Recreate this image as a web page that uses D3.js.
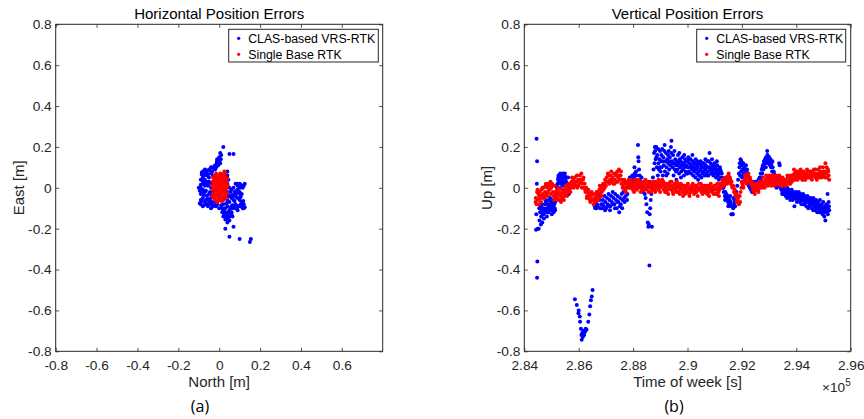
<!DOCTYPE html>
<html>
<head>
<meta charset="utf-8">
<script src="https://cdn.jsdelivr.net/npm/d3@7"></script>
<style>
  body { margin: 0; background: #fff; }
  svg text { font-family: "Liberation Sans", Arial, sans-serif; fill: #262626; }
</style>
</head>
<body>
<svg id="chart" width="864" height="419"></svg>
<script>
// ---- tick values ----
const horizTicksX = [-0.8, -0.6, -0.4, -0.2, 0, 0.2, 0.4, 0.6];
const horizTicksY = [-0.8, -0.6, -0.4, -0.2, 0, 0.2, 0.4, 0.6, 0.8];
const vertTicksX = [284000, 286000, 288000, 290000, 292000, 294000, 296000];
const vertTicksY = [-0.8, -0.6, -0.4, -0.2, 0, 0.2, 0.4, 0.6, 0.8];

const seriesNames = ["CLAS-based VRS-RTK", "Single Base RTK"];
const seriesColors = ["#0000ff", "#ff0000"];

// ---- (a) horizontal errors: [north, east] in m ----
const clasHoriz = [
  [-0.08,0.08],[-0.07,0.09],[-0.06,0.08],[-0.05,0.09],[-0.04,0.1],[-0.03,0.1],[-0.02,0.11],[-0.01,0.12],
  [0.0,0.13],[-0.01,0.14],[0.0,0.15],[0.01,0.16],[0.005,0.17],[-0.02,0.09],[-0.06,0.06],[-0.08,0.05],
  [-0.09,0.04],[-0.07,0.04],[-0.05,0.05],[-0.04,0.07],[-0.03,0.06],[-0.08,0.02],[-0.09,0.0],[-0.07,0.01],
  [-0.06,0.02],[-0.05,0.03],[-0.04,0.02],[-0.03,0.03],[-0.08,-0.01],[-0.09,-0.03],[-0.07,-0.02],[-0.06,-0.04],
  [-0.05,-0.03],[-0.04,-0.05],[-0.08,-0.05],[-0.09,-0.08],[-0.07,-0.07],[-0.06,-0.08],[-0.05,-0.07],[-0.04,-0.08],
  [-0.03,-0.09],[-0.02,-0.07],[-0.01,-0.08],[-0.04,-0.1],[0.0,-0.06],[-0.02,0.02],[-0.03,-0.02],[-0.02,-0.04],
  [-0.04,0.0],[-0.065,0.07],[-0.085,0.065],[-0.055,-0.055],[-0.075,-0.085],[-0.025,-0.085],
  [0.04,0.02],[0.05,0.0],[0.06,-0.01],[0.07,0.0],[0.08,0.02],[0.09,0.01],[0.1,0.02],[0.11,0.01],
  [0.12,0.01],[0.09,-0.01],[0.1,-0.02],[0.11,-0.03],[0.08,-0.03],[0.07,-0.04],[0.06,-0.05],[0.05,-0.04],
  [0.04,-0.06],[0.03,-0.05],[0.05,-0.07],[0.07,-0.06],[0.09,-0.05],[0.1,-0.06],[0.11,-0.07],[0.12,-0.08],
  [0.11,-0.09],[0.12,-0.1],[0.1,-0.09],[0.08,-0.08],[0.06,-0.09],[0.04,-0.09],[0.03,-0.1],[0.05,-0.11],
  [0.07,-0.1],[0.09,-0.11],[0.06,-0.12],[0.04,-0.13],[0.05,-0.14],[0.03,-0.12],[0.02,-0.11],[0.02,-0.08],
  [0.03,0.07],[0.04,0.08],[0.03,0.04],[0.02,0.06],[0.035,0.01],[0.04,-0.02],[0.085,-0.015],[0.105,-0.045],
  [-0.085,0.075],[-0.075,0.06],[-0.065,0.085],[-0.055,0.065],[-0.045,0.085],[-0.035,0.08],[-0.025,0.095],[-0.015,0.1],
  [-0.005,0.11],[0.005,0.12],[-0.012,0.128],[0.008,0.14],[-0.06,0.03],[-0.07,0.025],[-0.08,0.035],[-0.09,0.015],
  [-0.095,-0.015],[-0.085,-0.02],[-0.075,-0.035],[-0.065,-0.015],[-0.055,0.01],[-0.045,-0.02],[-0.035,-0.035],[-0.045,-0.065],
  [-0.065,-0.06],[-0.085,-0.065],[-0.095,-0.075],[-0.08,-0.09],[-0.055,-0.09],[-0.035,-0.07],[-0.015,-0.09],[0.0,-0.1],
  [0.01,-0.085],[0.015,-0.1],[0.025,-0.13],[0.035,-0.14],[0.045,-0.12],[0.055,-0.1],[0.065,-0.085],[0.075,-0.09],
  [0.085,-0.1],[0.095,-0.09],[0.105,-0.08],[0.115,-0.1],[0.125,-0.095],[0.118,-0.065],[0.105,-0.035],[0.095,-0.025],
  [0.085,-0.045],[0.075,-0.02],[0.065,-0.035],[0.055,-0.02],[0.045,-0.04],[0.035,-0.075],[0.045,0.04],[0.04,0.06],
  [0.035,0.055],[0.115,0.0],[0.125,0.02],[0.1,0.0],[0.09,0.02],[0.105,0.015],[0.075,-0.065],[0.06,-0.13],
  [0.045,-0.155],[0.065,-0.14],[0.04,-0.145],[0.02,-0.14],[0.015,-0.12],[0.03,-0.155],
  [0.05,-0.16],[0.04,-0.17],[0.03,-0.2],[0.07,-0.19],[0.05,-0.24],[0.1,-0.25],[0.15,-0.265],[0.155,-0.25],
  [0.02,0.2],[0.05,0.165],[0.07,0.165],[-0.1,0.0],[-0.09,-0.06]
];
const baseHoriz = [
  [-0.03,0.05],[-0.02,0.06],[-0.01,0.05],[0.0,0.06],[0.01,0.05],[0.02,0.06],[0.03,0.07],[0.025,0.08],[0.03,0.05],
  [-0.03,0.03],[-0.02,0.04],[-0.01,0.03],[0.0,0.04],[0.01,0.03],[0.02,0.04],[0.03,0.03],[0.035,0.02],
  [-0.035,0.01],[-0.02,0.02],[-0.01,0.01],[0.0,0.02],[0.01,0.01],[0.02,0.02],[0.03,0.01],
  [-0.03,-0.01],[-0.02,0.0],[-0.01,-0.01],[0.0,0.0],[0.01,-0.01],[0.02,0.0],[0.03,-0.01],[0.035,0.0],
  [-0.03,-0.03],[-0.02,-0.02],[-0.01,-0.03],[0.0,-0.02],[0.01,-0.03],[0.02,-0.02],[0.03,-0.03],
  [-0.025,-0.05],[-0.015,-0.04],[-0.005,-0.05],[0.005,-0.04],[0.015,-0.05],[0.025,-0.04],
  [-0.02,-0.06],[-0.01,-0.07],[0.0,-0.06],[0.01,-0.065],[0.02,-0.06],
  [-0.015,0.07],[0.005,0.07],[0.015,0.065],[-0.025,0.045],[0.025,-0.015],[-0.005,0.015],[0.015,-0.015],
  [-0.015,-0.015],[0.005,0.035],[-0.025,0.02],[0.015,0.025],[-0.005,-0.035],[0.025,0.035],
  [0.04,0.045],[0.042,0.01],[0.04,-0.025],[-0.032,-0.045],[0.033,-0.05]
];

// ---- (b) vertical errors: [time of week s, up m] ----
const clasVert = [
  [284450,0.24],[284470,0.13],[284460,0.02],[284440,-0.13],[284430,-0.205],[284490,-0.2],[284480,-0.36],[284470,-0.44],
  [284530,-0.2],[284560,-0.16],[284580,-0.12],[284600,-0.09],[284620,-0.14],[284640,-0.11],[284660,-0.17],[284680,-0.13],
  [284700,-0.1],[284720,-0.15],[284740,-0.12],[284760,-0.08],[284780,-0.11],[284800,-0.07],[284820,-0.1],[284840,-0.12],
  [284860,-0.08],[284880,-0.1],[284900,-0.06],[284920,-0.09],[284940,-0.11],[284960,-0.07],[284980,-0.1],[285000,-0.08],
  [285020,-0.11],[285040,-0.06],[285060,-0.09],[285080,-0.12],[285100,-0.08],[285120,-0.1],[285140,-0.07],[285160,-0.05],
  [285180,-0.03],[285200,0.0],[285220,0.02],[285240,0.04],[285260,0.06],[285280,0.03],[285300,0.05],[285320,0.07],
  [285340,0.02],[285360,0.04],[285380,0.06],[285400,0.03],[285420,0.07],[285440,0.05],[285460,0.02],[285480,0.06],
  [285500,0.04],[285520,0.01],[285540,0.03],[285560,0.0],[285580,-0.02],[285600,0.02],[285620,0.0],[285640,-0.03],
  [285860,-0.545],[285930,-0.573],[285990,-0.614],[286000,-0.6],[286040,-0.63],[286050,-0.655],[286080,-0.69],[286100,-0.72],
  [286110,-0.744],[286130,-0.71],[286150,-0.73],[286170,-0.7],[286200,-0.72],[286230,-0.705],[286260,-0.69],[286290,-0.695],
  [286350,-0.655],[286390,-0.62],[286420,-0.58],[286450,-0.55],[286480,-0.532],[286510,-0.5],
  [286560,-0.06],[286590,-0.09],[286620,-0.07],[286650,-0.1],[286680,-0.08],[286710,-0.05],[286740,-0.03],[286770,-0.06],
  [286800,-0.04],[286830,-0.08],[286860,-0.1],[286890,-0.06],[286920,-0.09],[286950,-0.04],[286980,-0.07],[287010,-0.1],
  [287040,-0.05],[287070,-0.08],[287100,-0.03],[287130,-0.06],[287160,-0.09],[287190,-0.04],[287220,-0.07],[287250,-0.02],
  [287280,-0.05],[287310,-0.08],[287340,-0.03],[287370,-0.06],[287400,-0.1],[287430,-0.04],[287460,-0.07],[287490,-0.12],
  [287520,-0.05],[287550,-0.08],[287580,-0.03],[287610,-0.06],[287640,-0.02],[287670,-0.05],[287700,-0.01],[287730,-0.04],
  [287760,0.0],[287790,-0.03],[287820,0.03],[287850,0.01],[287880,0.05],[287910,0.02],[287940,0.04],[287970,0.06],
  [288000,0.03],[288030,0.05],[288060,0.07],[288090,0.04],[288120,0.06],[288150,0.02],[288180,0.21],[288200,0.13],
  [288220,0.09],[288250,0.04],[288280,0.0],[288310,0.05],[288340,0.02],[288370,-0.02],[288400,0.03],[288430,-0.03],
  [288460,-0.05],[288490,-0.08],[288520,-0.12],[288540,-0.17],[288560,-0.19],[288580,-0.18],[288610,-0.13],[288630,-0.1],
  [288650,-0.06],[288670,-0.03],[288690,-0.19],[288600,-0.38],[288710,0.0],[288730,0.05],[288750,0.09],[288770,0.17],
  [288790,0.12],[288810,0.18],[288830,0.14],[288850,0.2],[288870,0.1],[288890,0.16],[288910,0.06],[288930,0.12],
  [288950,0.09],[288970,0.14],[288990,0.18],[289010,0.08],[289030,0.13],[289050,0.1],[289070,0.19],[289090,0.06],
  [289110,0.15],[289130,0.11],[289150,0.18],[289170,0.08],[289190,0.13],[289210,0.17],[289230,0.1],[289250,0.14],
  [289270,0.07],[289290,0.12],[289310,0.18],[289330,0.09],[289350,0.15],[289370,0.11],[289390,0.2],[289410,0.23],
  [289430,0.13],[289450,0.1],[289470,0.16],[289490,0.06],[289510,0.12],[289530,0.09],[289550,0.14],[289570,0.11],
  [289590,0.04],[289610,0.13],[289630,0.09],[289650,0.16],[289670,0.12],[289690,0.07],[289710,0.14],[289730,0.1],
  [289750,0.13],[289770,0.08],[289790,0.11],[289810,0.15],[289830,0.09],[289850,0.12],[289870,0.06],[289890,0.1],
  [289910,0.14],[289930,0.08],[289950,0.11],[289970,0.07],[289990,0.13],[290010,0.1],[290030,0.15],[290050,0.08],
  [290070,0.12],[290090,0.1],[290110,0.14],[290130,0.07],[290150,0.11],[290170,0.09],[290190,0.13],[290210,0.06],
  [290230,0.1],[290250,0.08],[290270,0.12],[290290,0.05],[290310,0.09],[290330,0.11],[290350,0.07],[290370,0.1],
  [290390,0.04],[290410,0.08],[290430,0.12],[290450,0.06],[290470,0.09],[290490,0.11],[290510,0.05],[290530,0.1],
  [290550,0.07],[290570,0.12],[290590,0.08],[290610,0.1],[290630,0.06],[290650,0.09],[290670,0.11],[290690,0.07],
  [290710,0.1],[290730,0.13],[290750,0.08],[290770,0.06],[290790,0.1],[290810,0.17],[290830,0.09],[290850,0.12],
  [290870,0.07],[290890,0.1],[290910,0.08],[290930,0.11],[290950,0.06],[290970,0.09],[290990,0.12],[291010,0.07],
  [291030,0.1],[291050,0.05],[291070,0.08],[291090,0.11],[291110,0.06],[291130,0.09],[291150,0.04],[291170,0.07],
  [291190,0.1],[291210,0.05],[291230,0.08],[291250,0.02],[291270,0.05],[291290,0.0],[291310,0.03],[291330,-0.02],
  [291350,0.01],[291370,-0.04],[291390,-0.02],[291410,-0.05],[291430,-0.03],[291450,-0.06],[291470,-0.04],[291490,-0.07],
  [291510,-0.05],[291530,-0.08],[291550,-0.06],[291570,-0.04],[291590,-0.07],[291610,-0.13],[291640,-0.13],[291670,-0.13],
  [291690,-0.05],[291710,-0.08],[291730,-0.06],[291750,-0.09],[291770,-0.04],[291800,-0.02],[291830,0.01],[291860,0.04],
  [291890,0.07],[291910,0.1],[291930,0.06],[291950,0.14],[291970,0.08],[291990,0.11],[292010,0.05],[292030,0.09],
  [292050,0.12],[292070,0.07],[292090,0.1],[292110,0.04],[292130,0.08],[292150,0.11],[292170,0.06],[292190,0.09],
  [292210,0.03],[292230,0.07],[292250,0.01],[292270,0.04],[292290,0.0],[292310,0.03],[292330,-0.01],[292350,0.02],
  [292370,-0.02],[292390,0.01],[292410,0.03],[292430,0.0],[292450,0.02],[292470,-0.01],[292490,0.01],[292510,0.03],
  [292530,0.0],[292550,0.02],[292570,-0.01],[292590,0.01],[292610,0.04],[292630,0.02],[292650,0.05],[292670,0.03],
  [292690,0.07],[292710,0.05],[292730,0.09],[292750,0.07],[292770,0.11],[292790,0.09],[292810,0.13],[292830,0.1],
  [292850,0.14],[292870,0.12],[292890,0.15],[292910,0.13],[292930,0.18],[292950,0.14],[292970,0.12],[292990,0.15],
  [293010,0.13],[293030,0.11],[293050,0.14],[293070,0.1],[293090,0.12],[293110,0.08],[293130,0.1],[293150,0.06],
  [293170,0.08],[293190,0.04],[293210,0.06],[293230,0.02],[293250,0.04],[293270,0.0],[293290,0.03],[293310,0.05],
  [293330,0.01],[293350,0.03],[293370,0.12],[293390,0.11],[293410,0.0],[293430,0.02],[293450,-0.01],[293470,0.01],
  [293490,-0.02],[293510,0.0],[293530,-0.03],[293550,-0.01],[293570,0.01],[293590,-0.02],[293610,-0.04],[293630,-0.01],
  [293650,-0.03],[293670,0.0],[293690,-0.02],[293710,-0.04],[293730,-0.01],[293750,-0.03],[293770,-0.05],[293790,-0.02],
  [293810,-0.04],[293830,-0.01],[293850,-0.03],[293870,-0.06],[293890,-0.02],[293910,-0.04],[293930,-0.09],[293950,-0.03],
  [293970,-0.05],[293990,-0.02],[294010,-0.04],[294030,-0.06],[294050,-0.03],[294070,-0.05],[294090,-0.02],[294110,-0.04],
  [294130,-0.07],[294150,-0.03],[294170,-0.05],[294190,-0.08],[294210,-0.04],[294230,-0.06],[294250,-0.03],[294270,-0.05],
  [294290,-0.08],[294310,-0.04],[294330,-0.07],[294350,-0.05],[294370,-0.09],[294390,-0.06],[294410,-0.04],[294430,-0.07],
  [294450,-0.05],[294470,-0.09],[294490,-0.06],[294510,-0.08],[294530,-0.05],[294550,-0.07],[294570,-0.1],[294590,-0.06],
  [294610,-0.08],[294630,-0.05],[294650,-0.09],[294670,-0.07],[294690,-0.11],[294710,-0.08],[294730,-0.06],[294750,-0.09],
  [294770,-0.12],[294790,-0.07],[294810,-0.1],[294830,-0.08],[294850,-0.11],[294870,-0.06],[294890,-0.09],[294910,-0.12],
  [294930,-0.08],[294950,-0.1],[294970,-0.13],[294990,-0.07],[295010,-0.1],[295030,-0.14],[295050,-0.09],[295070,-0.16],
  [295090,-0.11],[295110,-0.08],[295130,-0.12],[295150,-0.03],[295170,-0.1],[295190,-0.07],[295210,-0.11],
  [284550,-0.1],[284610,-0.18],[284650,-0.08],[284710,-0.13],[284770,-0.06],[284830,-0.14],[284890,-0.12],[284950,-0.05],
  [285010,-0.13],[285070,-0.07],[285130,-0.11],[285190,0.01],[285250,0.05],[285310,0.0],[285370,0.03],[285430,0.01],
  [285490,0.07],[285550,0.05],[285610,0.05],
  [286610,-0.1],[286700,-0.09],[286790,-0.1],[286880,-0.08],[286970,-0.11],[287060,-0.09],[287150,-0.11],[287240,-0.08],
  [287330,-0.1],[287420,-0.07],[287510,-0.09],[287600,-0.1],[287690,-0.07],[287780,-0.06],[287870,0.02],[287960,0.01],
  [288050,0.1],[288110,0.08],[288190,0.15],[288240,0.06],
  [288800,0.2],[288860,0.15],[288920,0.19],[288980,0.1],[289040,0.16],[289100,0.13],[289160,0.21],[289220,0.06],
  [289280,0.16],[289340,0.13],[289400,0.17],[289460,0.12],[289520,0.18],[289580,0.08],[289640,0.11],[289700,0.17],
  [289760,0.05],[289820,0.12],[289880,0.16],[289940,0.13],[290000,0.07],[290060,0.14],[290120,0.1],[290180,0.16],
  [290240,0.12],[290300,0.14],[290360,0.13],[290420,0.06],[290480,0.13],[290540,0.08],[290600,0.12],[290660,0.14],
  [290720,0.06],[290780,0.13],[290840,0.1],[290900,0.14],[290960,0.11],[291020,0.09],[291080,0.13],[291140,0.07],
  [291200,0.09],[291260,0.07],[291320,0.0],[291380,-0.06],[291440,-0.04],[291500,-0.09],[291560,-0.08],[291620,-0.09],
  [291680,-0.1],[291740,-0.07],
  [291920,0.12],[291980,0.13],[292040,0.06],[292100,0.09],[292160,0.08],[292220,0.05],[292280,0.02],[292340,0.01],
  [292400,-0.01],[292460,0.01],[292520,0.02],[292580,0.0],[292640,0.03],[292700,0.04],[292760,0.1],[292820,0.12],
  [292880,0.1],[292940,0.16],[293000,0.15],[293060,0.11],[293120,0.13],[293180,0.07],[293240,0.05],[293300,0.01],
  [293360,0.02],[293420,0.01],[293480,-0.03],[293540,0.0],[293600,-0.01],[293660,-0.05],[293720,-0.02],[293780,-0.06],
  [293840,-0.02],[293900,-0.05],[293960,-0.03],[294020,-0.07],[294080,-0.04],[294140,-0.05],[294200,-0.06],[294260,-0.08],
  [294320,-0.06],[294380,-0.07],[294440,-0.1],[294500,-0.07],[294560,-0.08],[294620,-0.11],[294680,-0.09],[294740,-0.1],
  [294800,-0.08],[294860,-0.12],[294920,-0.1],[294980,-0.11],[295040,-0.12],[295100,-0.1],[295160,-0.13],[295200,-0.09]
];
const baseVert = [
  [284420,-0.05],[284450,-0.08],[284470,-0.02],
  [284500,-0.06],[284520,-0.03],[284540,-0.08],[284560,-0.02],[284580,-0.05],[284600,-0.04],[284630,-0.01],[284650,-0.05],
  [284680,-0.03],[284700,0.0],[284730,-0.04],[284760,-0.02],[284780,0.01],[284810,-0.03],[284840,0.0],[284870,-0.02],
  [284900,0.02],[284930,-0.01],[284960,0.03],[284990,0.0],[285020,0.02],[285050,-0.02],[285080,-0.04],[285110,0.01],
  [285140,-0.03],[285170,-0.05],[285200,-0.01],[285230,-0.03],[285260,-0.06],[285290,-0.02],[285320,-0.04],[285350,-0.07],
  [285380,-0.03],[285410,-0.05],[285440,-0.02],[285470,-0.04],[285500,-0.01],[285530,-0.03],[285560,0.0],[285590,-0.02],
  [285620,0.01],[285650,-0.01],[285680,0.02],[285710,0.0],[285740,0.03],[285770,0.01],[285800,0.04],[285830,0.02],
  [285860,0.05],[285890,0.01],[285920,0.03],[285950,0.0],[285980,0.04],[286010,0.02],[286040,0.06],[286070,0.03],
  [286100,0.07],[286130,0.02],[286160,0.04],[286190,0.0],[286220,0.02],[286250,-0.02],[286280,0.0],[286310,-0.04],
  [286340,-0.02],[286370,-0.05],[286400,-0.03],[286430,-0.07],[286460,-0.04],[286490,-0.06],[286520,-0.03],[286550,-0.08],
  [286580,-0.05],[286610,-0.03],[286640,-0.06],[286670,-0.04],[286700,-0.02],[286730,-0.05],[286760,-0.01],[286790,-0.03],
  [286820,0.0],[286850,-0.02],[286880,0.01],[286910,-0.01],[286940,0.02],[286970,0.04],[287000,0.01],[287030,0.05],
  [287060,0.03],[287090,0.06],[287120,0.02],[287150,0.04],[287180,0.06],[287210,0.03],[287240,0.05],[287270,0.02],
  [287300,0.07],[287330,0.04],[287360,0.06],[287390,0.03],[287420,0.08],[287450,0.05],[287480,0.09],[287510,0.04],
  [287540,0.06],[287570,0.02],[287600,0.04],[287630,0.01],[287660,0.03],[287690,-0.01],[287720,0.02],[287750,0.0],
  [287780,0.03],[287810,0.01],[287840,0.04],[287870,0.02],[287900,0.0],[287930,0.03],[287960,0.01],[287990,-0.01],
  [288020,0.02],[288050,0.0],[288080,0.03],[288110,0.01],[288140,-0.01],[288170,0.02],[288200,0.04],[288230,0.01],
  [288260,0.03],[288290,0.0],[288320,0.02],[288350,-0.01],[288380,0.01],[288410,0.03],[288440,0.0],[288470,0.02],
  [288500,-0.01],[288530,0.01],[288560,0.03],[288590,0.0],[288620,0.02],[288650,-0.02],[288680,0.01],[288710,0.0],
  [288740,0.02],[288770,-0.01],[288800,0.01],[288830,0.03],[288860,0.0],[288890,0.02],[288920,-0.01],[288950,0.01],
  [288980,0.03],[289010,0.0],[289040,0.02],[289070,0.04],[289100,0.01],[289130,-0.01],[289160,0.02],[289190,0.0],
  [289220,-0.02],[289250,0.01],[289280,-0.01],[289310,0.02],[289340,0.0],[289370,0.03],[289400,-0.01],[289430,0.01],
  [289460,-0.02],[289490,0.0],[289520,0.02],[289550,-0.01],[289580,0.01],[289610,0.03],[289640,0.0],[289670,-0.02],
  [289700,0.01],[289730,-0.01],[289760,0.02],[289790,0.0],[289820,-0.02],[289850,0.01],[289880,-0.01],[289910,-0.03],
  [289940,0.0],[289970,-0.02],[290000,0.01],[290030,-0.01],[290060,-0.03],[290090,0.0],[290120,-0.02],[290150,0.01],
  [290180,-0.01],[290210,0.0],[290240,-0.03],[290270,-0.01],[290300,0.01],[290330,-0.02],[290360,0.0],[290390,-0.01],
  [290420,0.02],[290450,-0.01],[290480,0.0],[290510,-0.02],[290540,0.01],[290570,-0.01],[290600,0.0],[290630,-0.02],
  [290660,0.01],[290690,-0.01],[290720,-0.03],[290750,0.0],[290780,-0.02],[290810,0.01],[290840,-0.01],[290870,0.0],
  [290900,-0.02],[290930,0.0],[290960,-0.03],[290990,-0.01],[291020,0.01],[291050,-0.01],[291080,-0.03],[291110,0.0],
  [291140,-0.02],[291170,-0.01],[291200,0.01],[291230,0.0],[291260,0.02],[291290,0.01],[291320,0.03],[291350,0.02],
  [291380,0.04],[291410,0.03],[291440,0.05],[291470,0.04],[291500,0.06],[291530,0.03],[291560,0.05],[291590,0.02],
  [291620,0.03],[291650,0.0],[291680,0.01],[291710,-0.02],[291740,-0.01],[291770,-0.04],[291800,-0.03],[291830,-0.06],
  [291860,-0.05],[291890,-0.08],[291920,-0.04],[291950,-0.02],[291980,0.0],[292010,0.02],[292040,0.01],[292070,0.03],
  [292100,0.04],[292130,0.03],[292160,0.05],[292190,0.04],[292220,0.06],[292250,0.05],[292280,0.03],[292310,0.04],
  [292340,0.02],[292370,0.01],[292400,-0.01],[292430,0.0],[292460,-0.02],[292490,0.01],[292520,-0.01],[292550,0.0],
  [292580,0.02],[292610,-0.02],[292640,0.01],[292670,0.0],[292700,0.02],[292730,0.0],[292760,0.03],[292790,0.01],
  [292820,0.03],[292850,0.02],[292880,0.04],[292910,0.02],[292940,0.05],[292970,0.03],[293000,0.04],[293030,0.02],
  [293060,0.05],[293090,0.03],[293120,0.04],[293150,0.02],[293180,0.03],[293210,0.05],[293240,0.03],[293270,0.04],
  [293300,0.02],[293330,0.04],[293360,0.03],[293390,0.05],[293420,0.02],[293450,0.04],[293480,0.03],[293510,0.01],
  [293540,0.03],[293570,0.02],[293600,0.04],[293630,0.02],[293660,0.03],[293690,0.05],[293720,0.03],[293750,0.04],
  [293780,0.02],[293810,0.05],[293840,0.03],[293870,0.06],[293900,0.04],[293930,0.07],[293960,0.05],[293990,0.08],
  [294020,0.06],[294050,0.04],[294080,0.07],[294110,0.05],[294140,0.06],[294170,0.08],[294200,0.05],[294230,0.07],
  [294260,0.04],[294290,0.06],[294320,0.05],[294350,0.07],[294380,0.05],[294410,0.06],[294440,0.08],[294470,0.06],
  [294500,0.05],[294530,0.07],[294560,0.05],[294590,0.08],[294620,0.06],[294650,0.09],[294680,0.06],[294710,0.05],
  [294740,0.07],[294770,0.06],[294800,0.09],[294830,0.07],[294860,0.05],[294890,0.08],[294920,0.06],[294950,0.07],
  [294980,0.1],[295010,0.06],[295040,0.08],[295070,0.12],[295100,0.07],[295130,0.05],[295160,0.09],[295190,0.06],
  [295210,0.04],
  // second pass of samples
  [284415,-0.07],[284485,-0.01],[284545,-0.04],[284615,-0.07],[284665,0.0],[284745,-0.05],[284795,0.02],[284855,-0.04],
  [284915,0.01],[284975,-0.03],[285035,0.01],[285095,-0.06],[285155,-0.02],[285215,-0.05],[285275,0.0],[285335,-0.06],
  [285395,-0.01],[285455,-0.06],[285515,0.01],[285575,-0.04],[285635,0.02],[285695,-0.02],[285755,0.05],[285815,0.0],
  [285875,0.03],[285935,0.06],[285995,0.01],[286055,0.04],[286115,0.0],[286175,0.05],[286235,-0.01],[286295,-0.05],
  [286355,-0.01],[286415,-0.06],[286475,-0.02],[286535,-0.06],[286595,-0.07],[286655,-0.02],[286715,-0.06],[286775,0.01],
  [286835,-0.04],[286895,0.02],[286955,0.0],[287015,0.03],[287075,0.07],[287135,0.03],[287195,0.08],[287255,0.04],
  [287315,0.02],[287375,0.07],[287435,0.03],[287495,0.06],[287555,0.08],[287615,0.0],[287675,0.04],[287735,-0.02],
  [287795,0.03],[287855,0.0],[287915,0.04],[287975,0.02],[288035,-0.02],[288095,0.04],[288155,0.0],[288215,0.03],
  [288275,-0.02],[288335,0.02],[288395,-0.01],[288455,0.04],[288515,0.0],[288575,-0.02],[288635,0.03],[288695,-0.01],
  [288755,0.03],[288815,-0.02],[288875,0.01],[288935,0.04],[288995,-0.02],[289055,0.01],[289115,0.03],[289175,-0.02],
  [289235,0.02],[289295,-0.03],[289355,0.01],[289415,0.03],[289475,-0.03],[289535,0.0],[289595,-0.02],[289655,0.02],
  [289715,-0.03],[289775,0.01],[289835,-0.04],[289895,0.01],[289955,-0.02],[290015,0.02],[290075,-0.04],[290135,-0.01],
  [290195,0.02],[290255,-0.02],[290315,0.01],[290375,-0.04],[290435,0.0],[290495,0.02],[290555,-0.03],[290615,0.01],
  [290675,-0.02],[290735,0.01],[290795,-0.04],[290855,0.02],[290915,-0.01],[290975,0.01],[291035,-0.03],[291095,0.02],
  [291155,-0.04],[291215,0.02],[291275,0.04],[291335,0.01],[291395,0.05],[291455,0.02],[291515,0.07],[291575,0.04],
  [291635,0.01],[291695,0.0],[291755,-0.03],[291815,-0.07],[291875,-0.04],[291935,-0.07],[291995,0.03],[292055,0.0],
  [292115,0.06],[292175,0.02],[292235,0.07],[292295,0.05],[292355,0.03],[292415,0.02],[292475,-0.03],[292535,0.02],
  [292595,-0.01],[292655,0.03],[292715,0.01],[292775,0.05],[292835,0.0],[292895,0.06],[292955,0.01],[293015,0.06],
  [293075,0.01],[293135,0.06],[293195,0.01],[293255,0.06],[293315,0.02],[293375,0.06],[293435,0.01],[293495,0.05],
  [293555,0.04],[293615,0.01],[293675,0.06],[293735,0.02],[293795,0.06],[293855,0.04],[293915,0.09],[293975,0.04],
  [294035,0.08],[294095,0.05],[294155,0.09],[294215,0.04],[294275,0.08],[294335,0.04],[294395,0.09],[294455,0.05],
  [294515,0.08],[294575,0.04],[294635,0.07],[294695,0.09],[294755,0.04],[294815,0.06],[294875,0.1],[294935,0.05],
  [294995,0.08],[295055,0.05],[295115,0.1],[295175,0.08]
];

const svg = d3.select("#chart");
const plotTop = 24.3, plotBottom = 351.3;
const ink = "#262626";
const tickLen = 3.5;
const fmt = d => String(d);

function panel({left, right, xDomain, xTicks, xFormat, yTicks, series, title, xLabel, yLabel, yLabelX, caption, captionX, legendX, legendW}) {
  const x = d3.scaleLinear().domain(xDomain).range([left, right]);
  const y = d3.scaleLinear().domain([-0.8, 0.8]).range([plotBottom, plotTop]);
  const g = svg.append("g");

  // dots, blue first then red on top
  series.forEach((pts, i) => {
    g.append("g").selectAll("circle").data(pts).join("circle")
      .attr("cx", d => x(d[0])).attr("cy", d => y(d[1]))
      .attr("r", 2).attr("fill", seriesColors[i]);
  });

  const styleAxis = a => {
    a.attr("font-size", null).attr("font-family", null);
    a.select(".domain").remove();
    a.selectAll(".tick line").attr("stroke", ink).attr("stroke-width", 0.8);
    a.selectAll(".tick text").attr("font-size", 13.7).attr("fill", ink);
  };

  g.append("g").attr("transform", `translate(0,${plotBottom})`)
    .call(d3.axisBottom(x).tickValues(xTicks).tickFormat(xFormat).tickSizeInner(-tickLen).tickSizeOuter(0).tickPadding(9))
    .call(styleAxis);
  g.append("g").attr("transform", `translate(0,${plotTop})`)
    .call(d3.axisTop(x).tickValues(xTicks).tickFormat("").tickSizeInner(-tickLen).tickSizeOuter(0))
    .call(styleAxis);
  g.append("g").attr("transform", `translate(${left},0)`)
    .call(d3.axisLeft(y).tickValues(yTicks).tickFormat(fmt).tickSizeInner(-tickLen).tickSizeOuter(0).tickPadding(4))
    .call(styleAxis);
  g.append("g").attr("transform", `translate(${right},0)`)
    .call(d3.axisRight(y).tickValues(yTicks).tickFormat("").tickSizeInner(-tickLen).tickSizeOuter(0))
    .call(styleAxis);

  g.append("rect").attr("x", left).attr("y", plotTop)
    .attr("width", right - left).attr("height", plotBottom - plotTop)
    .attr("fill", "none").attr("stroke", ink).attr("stroke-width", 1);

  const cx = (left + right) / 2;
  g.append("text").attr("x", cx).attr("y", 18.5).attr("text-anchor", "middle")
    .attr("font-size", 15).style("fill", "#000").text(title);
  g.append("text").attr("x", cx).attr("y", 387).attr("text-anchor", "middle")
    .attr("font-size", 15).text(xLabel);
  g.append("text").attr("transform", `translate(${yLabelX},${(plotTop + plotBottom) / 2}) rotate(-90)`)
    .attr("text-anchor", "middle").attr("font-size", 15).text(yLabel);
  g.append("text").attr("x", captionX).attr("y", 412).attr("text-anchor", "middle")
    .attr("font-size", 16).style("font-family", "'Open Sans', 'Noto Sans', sans-serif").style("fill", "#000")
    .text(caption);

  // legend
  const lg = g.append("g").attr("transform", `translate(${legendX},29.3)`);
  lg.append("rect").attr("width", legendW).attr("height", 32.7)
    .attr("fill", "#fff").attr("stroke", ink).attr("stroke-width", 1);
  seriesNames.forEach((name, i) => {
    const ry = 9 + i * 16;
    lg.append("circle").attr("cx", 10).attr("cy", ry).attr("r", 1.6).attr("fill", seriesColors[i]);
    lg.append("text").attr("x", 19.5).attr("y", ry).attr("dy", "0.36em")
      .attr("font-size", 12.3).style("fill", "#000").text(name);
  });
  return g;
}

panel({
  left: 55.7, right: 382.7, xDomain: [-0.8, 0.8], xTicks: horizTicksX, xFormat: fmt,
  yTicks: horizTicksY, series: [clasHoriz, baseHoriz],
  title: "Horizontal Position Errors", xLabel: "North [m]", yLabel: "East [m]", yLabelX: 23.5,
  caption: "(a)", captionX: 200, legendX: 228.7, legendW: 149.6
});

const right = panel({
  left: 524.3, right: 850.7, xDomain: [284000, 296000], xTicks: vertTicksX, xFormat: d => String(d / 1e5),
  yTicks: vertTicksY, series: [clasVert, baseVert],
  title: "Vertical Position Errors", xLabel: "Time of week [s]", yLabel: "Up [m]", yLabelX: 491.5,
  caption: "(b)", captionX: 674, legendX: 696.7, legendW: 149
});

// x10^5 exponent label
const ex = right.append("text").attr("x", 850.7).attr("y", 391.5).attr("text-anchor", "end").attr("font-size", 13.7);
ex.append("tspan").text("×10");
ex.append("tspan").attr("dy", -6).attr("font-size", 10).text("5");
</script>
</body>
</html>
